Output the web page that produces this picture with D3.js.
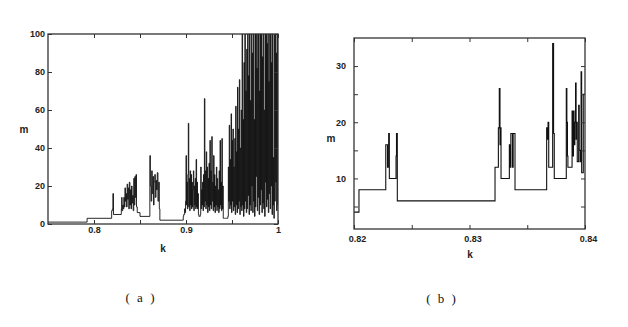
<!DOCTYPE html>
<html><head><meta charset="utf-8">
<script src="https://cdn.jsdelivr.net/npm/d3@7/dist/d3.min.js"></script>
<style>
html,body{margin:0;padding:0;background:#fff;}
svg{display:block;}
.tick text{font-family:"Liberation Sans",Arial,sans-serif;font-size:9px;font-weight:bold;fill:#222;}
</style></head>
<body>
<svg id="c" width="628" height="327"></svg>
<script>
// ---------- Panel (a) data ----------
// sparse part (step points), k and m
const aK = [0.750, 0.7925, 0.8192, 0.8200, 0.8205, 0.8212, 0.8297, 0.8301, 0.8305, 0.8312, 0.8318, 0.8324,
            0.8330, 0.8336, 0.8342, 0.8348, 0.8354, 0.8360, 0.8366, 0.8372, 0.8378, 0.8384, 0.8390, 0.8396,
            0.8402, 0.8408, 0.8414, 0.8420, 0.8426, 0.8432, 0.8438, 0.8444, 0.8450, 0.8456, 0.8462, 0.8470,
            0.8500, 0.8607, 0.8613, 0.8620, 0.8627, 0.8633, 0.8640, 0.8647, 0.8653, 0.8660, 0.8667, 0.8674,
            0.8680, 0.8688, 0.8695, 0.8703, 0.8710, 0.8716];
const aM = [1, 3, 7, 8, 16, 5, 8, 14, 7, 10, 8, 14,
            9, 19, 12, 16, 9, 21, 13, 19, 8, 22, 10, 18,
            8, 20, 11, 15, 7, 24, 10, 25, 14, 26, 9, 6,
            4, 36, 20, 12, 28, 16, 25, 10, 22, 26, 14, 23,
            18, 27, 12, 22, 8, 2];
// densely sampled part, regular k grid
const aDenseStart = 0.8965;
const aDenseStep = 0.0005;
const aDenseM = [
  2, 4, 5, 5, 8, 6, 12, 36, 10, 22,
  8, 26, 53, 9, 24, 7, 28, 10, 26, 8,
  22, 9, 18, 28, 7, 20, 10, 24, 8, 34,
  9, 22, 8, 16, 5, 4, 4, 4, 5, 30,
  8, 18, 10, 22, 7, 26, 9, 66, 12, 28,
  8, 38, 10, 30, 6, 24, 9, 32, 7, 44,
  10, 28, 8, 46, 12, 22, 7, 36, 9, 26,
  6, 20, 10, 30, 7, 24, 9, 18, 6, 28,
  8, 44, 10, 22, 7, 45, 8, 20, 3, 3,
  3, 3, 3, 3, 3, 3, 3, 3, 4, 30,
  12, 52, 8, 34, 10, 58, 6, 44, 12, 50,
  7, 30, 9, 45, 5, 62, 10, 38, 6, 72,
  8, 50, 12, 76, 5, 40, 9, 60, 7, 100,
  10, 55, 4, 85, 8, 100, 12, 70, 6, 92,
  8, 100, 15, 78, 5, 100, 10, 65, 7, 100,
  20, 90, 6, 100, 12, 55, 4, 100, 9, 100,
  25, 82, 7, 100, 14, 100, 5, 70, 10, 100,
  18, 100, 6, 88, 11, 100, 8, 60, 4, 100,
  22, 100, 9, 95, 13, 100, 6, 75, 16, 100,
  8, 100, 20, 85, 5, 100, 10, 35, 3, 100,
  12, 100, 22, 90, 7, 100, 10, 100
];
const aXTicks = [0.8, 0.85, 0.9, 0.95, 1];
const aXLabelTicks = [0.8, 0.9, 1];
const aXLabels = ["0.8", "0.9", "1"];
const aYTicks = [0, 20, 40, 60, 80, 100];

// ---------- Panel (b) data ----------
const bK = [0.8200, 0.82043, 0.82275, 0.82290, 0.82300, 0.82306, 0.82364, 0.82368, 0.82375,
            0.83221, 0.83250, 0.83258, 0.83264, 0.83268, 0.83273, 0.83345, 0.83352, 0.83358, 0.83372, 0.83378, 0.83394,
            0.83668, 0.83674, 0.83680, 0.83686, 0.83720, 0.83728, 0.83734,
            0.83838, 0.83843, 0.83848, 0.83852, 0.83888, 0.83893, 0.83900, 0.83905, 0.83912, 0.83918, 0.83923,
            0.83928, 0.83933, 0.83945, 0.83950, 0.83958, 0.83966, 0.83971, 0.83985, 0.84000];
const bM = [4, 8, 16, 12, 18, 10, 14, 18, 6,
            12, 19, 26, 16, 19, 10, 16, 12, 18, 12, 18, 8,
            19, 17, 20, 12, 34, 18, 10,
            26, 20, 14, 12, 22, 14, 22, 16, 20, 27, 17,
            20, 13, 23, 15, 13, 29, 11, 25, 25];
const bXTicks = [0.82, 0.825, 0.83, 0.835, 0.84];
const bXLabelTicks = [0.82, 0.83, 0.84];
const bXLabels = ["0.82", "0.83", "0.84"];
const bYTicks = [5, 10, 15, 20, 25, 30];
const bYLabelTicks = [10, 20, 30];

const captions = ["( a )", "( b )"];
const axisLabelX = "k", axisLabelY = "m";

// ---------- drawing ----------
const svg = d3.select("#c");

function panel(cfg) {
  const g = svg.append("g");
  const x = d3.scaleLinear().domain(cfg.xDomain).range([cfg.left, cfg.right]);
  const y = d3.scaleLinear().domain(cfg.yDomain).range([cfg.bottom, cfg.top]);
  const clipId = "clip" + cfg.id;
  svg.append("clipPath").attr("id", clipId).append("rect")
    .attr("x", cfg.left).attr("y", cfg.top - 0.5)
    .attr("width", cfg.right - cfg.left).attr("height", cfg.bottom - cfg.top + 1);

  const line = d3.line().x(d => x(d[0])).y(d => y(d[1])).curve(d3.curveStepAfter);
  g.append("path").datum(cfg.points)
    .attr("clip-path", `url(#${clipId})`)
    .attr("fill", "none").attr("stroke", "#111").attr("stroke-width", cfg.lw)
    .attr("d", line);

  const fmtX = d => { const i = cfg.xLabelTicks.findIndex(t => Math.abs(t - d) < 1e-9); return i >= 0 ? cfg.xLabels[i] : ""; };
  const fmtY = d => cfg.yLabelTicks.some(t => Math.abs(t - d) < 1e-9) ? String(d) : "";

  const bottomAx = g.append("g").attr("transform", `translate(0,${cfg.bottom})`)
    .call(d3.axisBottom(x).tickValues(cfg.xTicks).tickSize(-4).tickPadding(cfg.xPad).tickFormat(fmtX));
  bottomAx.selectAll("text").attr("dx", cfg.xdx);
  g.append("g").attr("transform", `translate(0,${cfg.top})`)
    .call(d3.axisTop(x).tickValues(cfg.xTicks).tickSize(-4).tickFormat(""));
  g.append("g").attr("transform", `translate(${cfg.left},0)`)
    .call(d3.axisLeft(y).tickValues(cfg.yTicks).tickSize(-4).tickPadding(cfg.yPad).tickFormat(fmtY));
  g.append("g").attr("transform", `translate(${cfg.right},0)`)
    .call(d3.axisRight(y).tickValues(cfg.yTicks).tickSize(-4).tickFormat(""));
  g.selectAll(".domain").remove();
  g.selectAll(".tick line").attr("stroke", "#333").attr("stroke-width", 1);

  g.append("rect").attr("x", cfg.left).attr("y", cfg.top)
    .attr("width", cfg.right - cfg.left).attr("height", cfg.bottom - cfg.top)
    .attr("fill", "none").attr("stroke", "#333").attr("stroke-width", 1.3);

  g.append("text").attr("x", cfg.mX).attr("y", cfg.mY).attr("text-anchor", "middle")
    .attr("dominant-baseline", "central")
    .style("font-family", "Liberation Sans, Arial, sans-serif").style("font-size", "10px").style("font-weight", "bold")
    .attr("fill", "#222").text(axisLabelY);
  g.append("text").attr("x", cfg.kX).attr("y", cfg.kY).attr("text-anchor", "middle")
    .attr("dominant-baseline", "central")
    .style("font-family", "Liberation Sans, Arial, sans-serif").style("font-size", "10px").style("font-weight", "bold")
    .attr("fill", "#222").text(axisLabelX);
  g.append("text").attr("x", cfg.capX).attr("y", cfg.capY).attr("text-anchor", "middle")
    .attr("dominant-baseline", "central")
    .style("font-family", "Liberation Serif, Times New Roman, serif").style("font-size", "13px")
    .style("letter-spacing", "2px")
    .attr("fill", "#111").text(cfg.caption);
}

const pointsA = aK.map((k, i) => [k, aM[i]])
  .concat(aDenseM.map((m, i) => [aDenseStart + i * aDenseStep, m]));
const pointsB = bK.map((k, i) => [k, bM[i]]);

panel({
  id: "a", points: pointsA, lw: 0.9,
  xDomain: [0.75, 1], yDomain: [0, 100],
  left: 48, right: 278, top: 34, bottom: 224,
  xTicks: aXTicks, xLabelTicks: aXLabelTicks, xLabels: aXLabels, xPad: 3, xdx: 0,
  yTicks: aYTicks, yLabelTicks: aYTicks, yPad: 3,
  mX: 24, mY: 129, kX: 163, kY: 248,
  caption: captions[0], capX: 141, capY: 297
});
panel({
  id: "b", points: pointsB, lw: 1.1,
  xDomain: [0.82, 0.84], yDomain: [1, 35],
  left: 354, right: 585, top: 38, bottom: 229,
  xTicks: bXTicks, xLabelTicks: bXLabelTicks, xLabels: bXLabels, xPad: 7, xdx: 3,
  yTicks: bYTicks, yLabelTicks: bYLabelTicks, yPad: 8,
  mX: 331, mY: 138, kX: 470, kY: 254,
  caption: captions[1], capX: 442, capY: 298
});
</script>
</body></html>
